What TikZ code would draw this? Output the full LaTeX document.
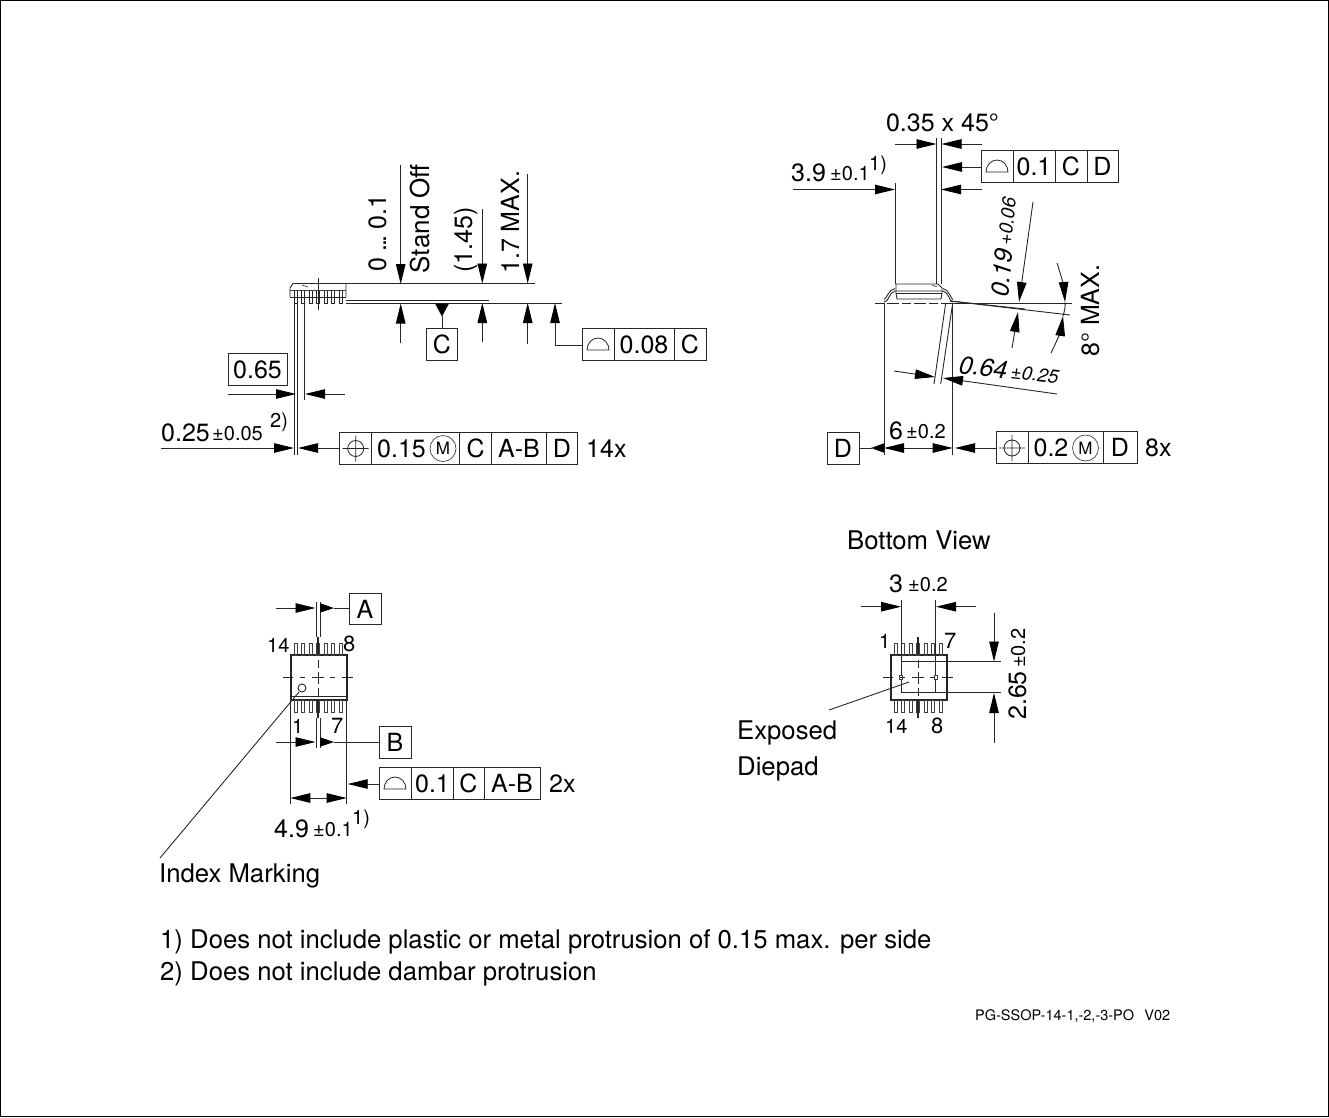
\documentclass[tikz,border=0pt]{standalone}
\usepackage{fontspec}
\setmainfont{TeX Gyre Heros}
\usetikzlibrary{arrows.meta}
\tikzset{
 x=1pt,y=-1pt,
 ln/.style={line width=0.9pt,black!85},
 thk/.style={line width=1.7pt,black!85},
 thin2/.style={line width=0.7pt,black!75},
 tip/.style={ln,-{Triangle[length=20pt,width=9.5pt,color=black]}},
 tips/.style={ln,{Triangle[length=20pt,width=9.5pt,color=black]}-{Triangle[length=20pt,width=9.5pt,color=black]}},
 t/.style={inner sep=0,anchor=base west,text=black},
 c/.style={inner sep=0,anchor=base,text=black},
 big/.style={font=\fontsize{25}{28}\selectfont},
 mid/.style={font=\fontsize{20}{22}\selectfont},
 lab/.style={font=\fontsize{25.7}{28}\selectfont},
 pin/.style={font=\fontsize{20}{22}\selectfont},
 segsym/.pic={\draw[ln,line width=0.8pt] (-11,0) arc[start angle=180,end angle=0,x radius=11pt,y radius=12pt] -- cycle;},
 possym/.pic={\draw[ln,line width=0.8pt] (0,0) circle[radius=8pt] (-13,0) -- (13,0) (0,-13) -- (0,13);},
 leads/.pic={\foreach \lx in {-22.3,-15,-7.2,0,7.5,15,22.7}{
   \draw[thin2] (\lx-1.5,0) rectangle (\lx+1.5,12);}},
 crossm/.pic={
   \draw[ln] (-35,0) -- (-25,0) (-18,0) -- (-13,0) (-6,0) -- (6,0) (12,0) -- (17,0) (24,0) -- (35,0);
   \draw[ln] (0,-18) -- (0,-10) (0,-6) -- (0,6) (0,10) -- (0,18);
   \draw[line width=2pt,black!85] (0,-40.5) -- (0,-22.5) (0,22.5) -- (0,40.5);},
}
\begin{document}
\begin{tikzpicture}
\useasboundingbox (0,0) rectangle (1329,1117);
\draw[line width=1pt,black] (0.5,0.5) rectangle (1328.5,1116.5);

%% ---------- Side view (top left) ----------
\draw[ln] (290,297) -- (290,288) -- (293,283.5) -- (346,283.5) -- (346,297);
\draw[thin2] (290,290) -- (346,290);
\draw[ln] (290,297) -- (346,297);
\draw[thin2] (302,285) -- (308,287);
\foreach \lx in {295.7,303,310.7,318,325.7,333,340.7}{
  \draw[ln] (\lx-1.5,291) -- (\lx-1.5,303.5) -- (\lx+1.5,303.5) -- (\lx+1.5,291);}
\draw[ln] (318,278) -- (318,310);
% extension lines
\draw[ln] (346,283.5) -- (535,283.5);
\draw[ln] (346,300.5) -- (489,300.5);
\draw[ln] (346,303) -- (562,303);
\draw[ln] (294.5,303) -- (294.5,455) (297.5,303) -- (297.5,455) (304,303) -- (304,400);
% 0...0.1 arrow
\draw[tip] (400.7,165) -- (400.7,284);
\draw[tip] (400.7,343) -- (400.7,303.5);
\node[t,big,rotate=90] (n01) at (386,272) {0\hspace{6pt}.\kern-2pt.\kern-2pt.\hspace{6pt}0.1};
\node[t,rotate=90,font=\fontsize{26}{28}\selectfont] (standoff) at (429,273.5) {Stand Off};
\draw[tip] (482.3,209) -- (482.3,283.5);
\draw[tip] (482.3,342) -- (482.3,303);
\node[t,big,rotate=90] (n145) at (472,273) {(1.45)};
\draw[tip] (527.7,174) -- (527.7,283.5);
\draw[tip] (527.7,344) -- (527.7,303);
\node[t,big,rotate=90] (n17) at (519,274) {1.7 MAX.};
% datum C
\fill[black] (435,303.5) -- (449,303.5) -- (442,316.5) -- cycle;
\draw[ln] (442,316) -- (442,328);
\draw[ln] (426,328) rectangle (457.7,360);
\node[c,big] (dc) at (441.8,353) {C};
% 0.08 frame
\draw[tip] (582.3,345) -- (555,345) -- (555,303);
\draw[ln] (582.3,328) rectangle (706,360);
\draw[ln] (614,328) -- (614,360) (674,328) -- (674,360);
\pic at (598,350) {segsym};
\node[c,big] (f008) at (644,353) {0.08};
\node[c,big] (f008c) at (690,353) {C};
% 0.65
\draw[ln] (228,353) rectangle (287,385);
\node[c,big] (n065) at (257.5,378) {0.65};
\draw[tip] (228,394) -- (296,394);
\draw[tip] (345,394) -- (305,394);
% 0.25
\node[t,big] (n025) at (161,441) {0.25};
\node[t,mid] (n025b) at (212,440) {±0.05};
\node[t,mid] (n025c) at (270,427) {2)};
\draw[tip] (161,448) -- (294,448);
\draw[tip] (339.3,448) -- (298,448);
% position frame 14x
\draw[ln] (339.3,432.7) rectangle (577.7,464);
\draw[ln] (371.3,432.7) -- (371.3,464) (459.7,432.7) -- (459.7,464) (491.7,432.7) -- (491.7,464) (546.7,432.7) -- (546.7,464);
\pic at (355.7,448.5) {possym};
\node[c,big] (f015) at (401.5,457) {0.15};
\draw[thin2] (443,448.5) circle[radius=13pt];
\node[c,font=\fontsize{17}{18}\selectfont] (f015m) at (443,454.5) {M};
\node[c,big] (f015c) at (475.7,457) {C};
\node[c,big] (f015ab) at (519,457) {A-B};
\node[c,big] (f015d) at (562,457) {D};
\node[t,big] (n14x) at (586,457) {14x};

%% ---------- Side view (top right) ----------
\node[c,big] (n035) at (942.5,131) {0.35 x 45°};
\draw[tip] (895,144) -- (936.5,144);
\draw[tip] (982,144) -- (941.5,144);
\draw[ln] (936.7,138) -- (936.7,284) (941.2,138) -- (941.2,284);
\draw[ln] (895,183) -- (895,284);
\draw[tip] (981,167) -- (942,167);
\draw[ln] (981,150) rectangle (1118,182);
\draw[ln] (1013,150) -- (1013,182) (1055,150) -- (1055,182) (1087,150) -- (1087,182);
\pic at (997,172) {segsym};
\node[c,big] (f01) at (1034,175) {0.1};
\node[c,big] (f01c) at (1071,175) {C};
\node[c,big] (f01d) at (1102.5,175) {D};
\node[t,big] (n39) at (791,181) {3.9};
\node[t,mid] (n39b) at (830,180) {±0.1};
\node[t,mid] (n39c) at (869,170) {1)};
\draw[tip] (793,189.5) -- (895,189.5);
\draw[tip] (982,189.5) -- (941,189.5);
% package
\draw[ln] (896,293) -- (896,284) -- (938,284) -- (942,288) -- (942,293);
\draw[ln] (896,293) -- (942,293);
\draw[thin2] (932,285.5) -- (937,286.5);
\draw[ln] (896,293) -- (897,299) -- (941,299) -- (942,293);
\draw[ln] (884,302) .. controls (889,302) and (889,292) .. (895,291) -- (943,291) .. controls (949,292) and (949,302) .. (953,302);
\draw[ln] (884,299.5) .. controls (886,299.5) and (889,289) .. (895,288.5);
\draw[ln] (943,288.5) .. controls (949,289) and (951,299.5) .. (953,299.5);
\draw[ln,dash pattern=on 9pt off 3pt on 12pt off 3pt] (875,303) -- (953,303);
\draw[ln] (953,303) -- (1072,303);
\draw[ln] (950,301) -- (1025,309);
\draw[ln] (950,301) -- (1070,315);
% verticals
\draw[ln] (884,303) -- (884,455);
\draw[ln] (952.7,303) -- (952.7,455);
\draw[ln] (945.7,303) -- (934,384);
\draw[ln] (952.7,303) -- (940.7,384);
% 0.64
\draw[tip] (894,371) -- (935,377);
\draw[tip] (1057,394) -- (943,378);
\node[t,rotate=-7,font=\fontsize{25}{28}\itshape\selectfont] (n064) at (958,373) {0.64};
\node[t,rotate=-7,font=\fontsize{19}{22}\itshape\selectfont] (n064b) at (1010,378) {±0.25};
% 0.19
\draw[tip] (1033,202) -- (1019,302);
\draw[tip] (1012,348) -- (1018,312);
\node[t,rotate=84,font=\fontsize{25}{28}\itshape\selectfont] (n019) at (1008,298) {0.19};
\node[t,rotate=84,font=\fontsize{19}{22}\itshape\selectfont] (n019b) at (1011,246) {+0.06};
% 8 deg
\draw[tip] (1057,263) .. controls (1061,275) and (1064,288) .. (1065,302);
\draw[tip] (1051,353) .. controls (1056,343) and (1061,330) .. (1063,316);
\draw[ln] (1065,302) .. controls (1065.5,307) and (1064.5,311) .. (1063,316);
\node[t,big,rotate=90] (n8) at (1099,357) {8° MAX.};
% datum D and width
\draw[ln] (827,432) rectangle (859,464);
\node[c,big] (dd) at (843,457) {D};
\fill[black] (871,448) -- (884,443.3) -- (884,452.7) -- cycle;
\draw[ln] (859,448) -- (872,448);
\draw[tips] (884,448) -- (952.7,448);
\node[t,big] (n6) at (889,439) {6};
\node[t,mid] (n6b) at (906,438) {±0.2};
\draw[tip] (996,448) -- (955,448);
\draw[ln] (996,431.5) rectangle (1137,463.5);
\draw[ln] (1028,431.5) -- (1028,463.5) (1103,431.5) -- (1103,463.5);
\pic at (1012,448) {possym};
\node[c,big] (f02) at (1051,456.5) {0.2};
\draw[thin2] (1085.5,448) circle[radius=13pt];
\node[c,font=\fontsize{17}{18}\selectfont] (f02m) at (1085.5,454) {M};
\node[c,big] (f02d) at (1120,456.5) {D};
\node[t,big] (n8x) at (1145,456.5) {8x};

%% ---------- Top view (bottom left) ----------
\draw[thk] (290.7,655) rectangle (346.7,700);
\draw[ln] (290.7,696) -- (346.7,696);
\pic at (318,643) {leads};
\pic at (318,700) {leads};
\draw[ln] (302,688) circle[radius=4pt];
\pic at (318,677.7) {crossm};
\draw[ln] (316.5,602) -- (316.5,637) (320,602) -- (320,637);
\draw[ln] (316.5,718) -- (316.5,748) (320,718) -- (320,748);
\draw[tip] (276,608) -- (315.5,608);
\fill[black] (320,603.3) -- (334,608) -- (320,612.7) -- cycle;
\draw[ln] (334,608) -- (349,608);
\draw[ln] (349,593) rectangle (381,624);
\node[c,big] (da) at (365,618) {A};
\draw[tip] (276,742) -- (315.5,742);
\fill[black] (320,737.3) -- (334,742) -- (320,746.7) -- cycle;
\draw[ln] (334,742) -- (379,742);
\draw[ln] (379,726) rectangle (411,758);
\node[c,big] (db) at (395,751) {B};
\node[t,pin] (p14) at (267,652) {14};
\node[t,font=\fontsize{22}{24}\selectfont] (p8) at (343,651) {8};
\node[t,pin] (p1) at (292,733) {1};
\node[t,font=\fontsize{22}{24}\selectfont] (p7) at (331,733) {7};
\draw[ln] (290.3,700) -- (290.3,804) (346.7,700) -- (346.7,804);
\draw[tips] (290.3,798) -- (346.7,798);
\draw[tip] (379,784) -- (347.7,784);
\draw[ln] (379,767) rectangle (540,799);
\draw[ln] (411.7,767) -- (411.7,799) (453,767) -- (453,799) (484,767) -- (484,799);
\pic at (395,789) {segsym};
\node[c,big] (f3) at (432.5,792) {0.1};
\node[c,big] (f3c) at (468.5,792) {C};
\node[c,big] (f3ab) at (512,792) {A-B};
\node[t,big] (n2x) at (549,792) {2x};
\node[t,big] (n49) at (274,837) {4.9};
\node[t,mid] (n49b) at (313,836) {±0.1};
\node[t,mid] (n49c) at (352,824) {1)};
\draw[ln] (299,692) -- (160,858);
\node[t,lab] (idx) at (159,882) {Index Marking};

%% ---------- Bottom view ----------
\node[t,lab] (bv) at (847,549) {Bottom View};
\draw[thk] (890.7,655) rectangle (946.7,700);
\pic at (918,643) {leads};
\pic at (918,700) {leads};
\draw[ln] (901,661.7) rectangle (935.7,692.7);
\draw[thin2,fill=white] (899.5,675) rectangle (902.5,679);
\draw[thin2,fill=white] (934.2,675) rectangle (937.2,679);
\pic at (918,677.5) {crossm};
\draw[ln] (901,600) -- (901,662) (935.7,600) -- (935.7,662);
\draw[tip] (861,606.7) -- (901,606.7);
\draw[tip] (976,606.7) -- (936,606.7);
\node[t,big] (n3) at (889,592) {3};
\node[t,mid] (n3b) at (908,591) {±0.2};
\draw[ln] (935.7,661.7) -- (1000.7,661.7) (935.7,692.7) -- (1000.7,692.7);
\draw[tip] (994,612.7) -- (994,661.5);
\draw[tip] (994,742.7) -- (994,693);
\node[t,big,rotate=90] (n265) at (1026,720) {2.65};
\node[t,mid,rotate=90] (n265b) at (1025,668) {±0.2};
\node[t,pin] (q1) at (879,648) {1};
\node[t,font=\fontsize{22}{24}\selectfont] (q7) at (944,648) {7};
\node[t,pin] (q14) at (885,733) {14};
\node[t,font=\fontsize{22}{24}\selectfont] (q8) at (931,733) {8};
\draw[ln] (909,682) -- (829,710);
\node[t,lab] (ex) at (737,739.5) {Exposed};
\node[t,lab] (dp) at (737,775) {Diepad};

%% ---------- Notes ----------
\node[t,lab] (note1) at (160,948) {1) Does not include plastic or metal protrusion of 0.15 max. per side};
\node[t,lab] (note2) at (160,980) {2) Does not include dambar protrusion};
\node[t,font=\fontsize{14.5}{15}\selectfont] (code) at (975,1020) {PG-SSOP-14-1,-2,-3-PO\hspace{0.7em}V02};
\end{tikzpicture}
\end{document}
